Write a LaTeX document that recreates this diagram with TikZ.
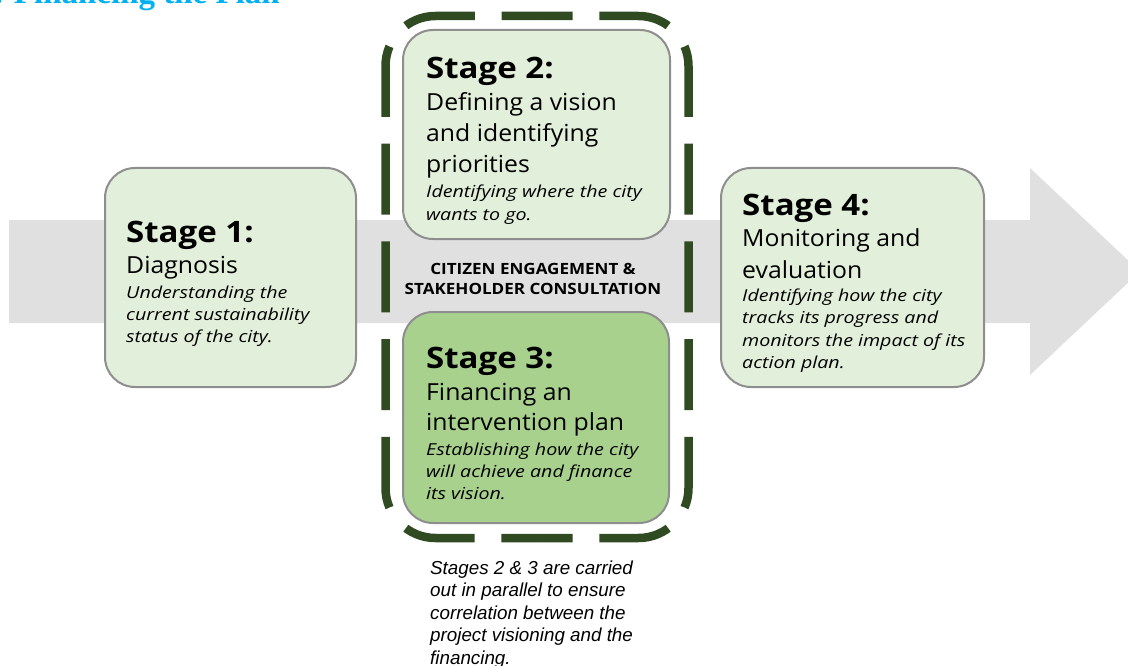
\documentclass[tikz,border=0pt]{standalone}
\usepackage{fontspec}
\setmainfont{Open Sans}
\newfontfamily\titlefont[FakeStretch=1.12]{Open Sans}
\newfontfamily\subfont[FakeStretch=1.055]{Open Sans}
\newfontfamily\descfont[FakeStretch=1.19]{Open Sans}
\newfontfamily\midfont[FakeStretch=1.1]{Open Sans}
\newfontfamily\capfont{Liberation Sans}
\newfontfamily\headfont{Liberation Serif}
\definecolor{arrowgray}{HTML}{E0E0E0}
\definecolor{boxgray}{HTML}{8E8E8E}
\definecolor{palegreen}{HTML}{E2EFDA}
\definecolor{midgreen}{HTML}{A9D18E}
\definecolor{darkgreen}{HTML}{304A22}
\definecolor{headcyan}{HTML}{00B0F0}
\begin{document}
\begin{tikzpicture}[x=1pt,y=-1pt,
  stagebox/.style={draw=boxgray, line width=2pt, rounded corners=30pt, fill=palegreen},
  stitle/.style={anchor=base west, inner sep=0pt, font=\titlefont\fontsize{29.5}{30}\selectfont\bfseries},
  ssub/.style={anchor=base west, inner sep=0pt, font=\subfont\fontsize{23.5}{24}\selectfont},
  sdesc/.style={anchor=base west, inner sep=0pt, font=\descfont\fontsize{16.5}{17}\selectfont\itshape},
  midtext/.style={anchor=base, inner sep=0pt, font=\midfont\fontsize{15.5}{16}\selectfont\bfseries},
  captext/.style={anchor=base west, inner sep=0pt, font=\capfont\fontsize{18.8}{19}\selectfont\itshape},
  dashline/.style={draw=darkgreen, line width=8.5pt, rounded corners=50pt, dash pattern=on 71pt off 26.75pt, dash phase=35.5pt}
]
\useasboundingbox (0,0) rectangle (1128,666);
% heading (cut off at the top)
\node[anchor=base east, inner sep=0pt, text=headcyan, font=\headfont\bfseries\fontsize{33}{34}\selectfont] (head) at (280,4) {. Financing the Plan};
% big arrow
\fill[arrowgray] (9,220) -- (1030,220) -- (1030,168) -- (1140,271.5) -- (1030,375) -- (1030,323) -- (9,323) -- cycle;
% dashed frame round stages 2 and 3
\draw[dashline] (537,16) -- (385.5,16) -- (385.5,538) -- (537,538);
\draw[dashline] (537,16) -- (688.5,16) -- (688.5,538) -- (537,538);
% stage boxes
\path[stagebox] (105,168) rectangle (356,387);
\path[stagebox] (403,30) rectangle (670,239);
\path[stagebox, fill=midgreen] (403,312) rectangle (669,523);
\path[stagebox] (721,168) rectangle (984,387);
% stage 1
\node[stitle] (s1t) at (126,242) {Stage 1:};
\node[ssub] (s1a) at (126,273) {Diagnosis};
\node[sdesc] (s1b) at (126,298) {Understanding the};
\node[sdesc] (s1c) at (126,320) {current sustainability};
\node[sdesc] (s1d) at (126,342) {status of the city.};
% stage 2
\node[stitle] (s2t) at (426,79) {Stage 2:};
\node[ssub] (s2a) at (426,111) {Defining a vision};
\node[ssub] (s2b) at (426,142) {and identifying};
\node[ssub] (s2c) at (426,173) {priorities};
\node[sdesc] (s2d) at (426,198) {Identifying where the city};
\node[sdesc] (s2e) at (426,220) {wants to go.};
% stage 3
\node[stitle] (s3t) at (426,368) {Stage 3:};
\node[ssub] (s3a) at (426,400) {Financing an};
\node[ssub] (s3b) at (426,430) {intervention plan};
\node[sdesc] (s3c) at (426,455) {Establishing how the city};
\node[sdesc] (s3d) at (426,477) {will achieve and finance};
\node[sdesc] (s3e) at (426,499) {its vision.};
% stage 4
\node[stitle] (s4t) at (742,215) {Stage 4:};
\node[ssub] (s4a) at (742,247) {Monitoring and};
\node[ssub] (s4b) at (742,278) {evaluation};
\node[sdesc] (s4c) at (742,301) {Identifying how the city};
\node[sdesc] (s4d) at (742,323) {tracks its progress and};
\node[sdesc] (s4e) at (742,346) {monitors the impact of its};
\node[sdesc] (s4f) at (742,368) {action plan.};
% centre label
\node[midtext] (ce1) at (533,274) {CITIZEN ENGAGEMENT \&};
\node[midtext] (ce2) at (533,294) {STAKEHOLDER CONSULTATION};
% caption
\node[captext] (c1) at (430,574) {Stages 2 \& 3 are carried};
\node[captext] (c2) at (430,596.5) {out in parallel to ensure};
\node[captext] (c3) at (430,619) {correlation between the};
\node[captext] (c4) at (430,641.5) {project visioning and the};
\node[captext] (c5) at (430,664) {financing.};
\end{tikzpicture}
\end{document}
